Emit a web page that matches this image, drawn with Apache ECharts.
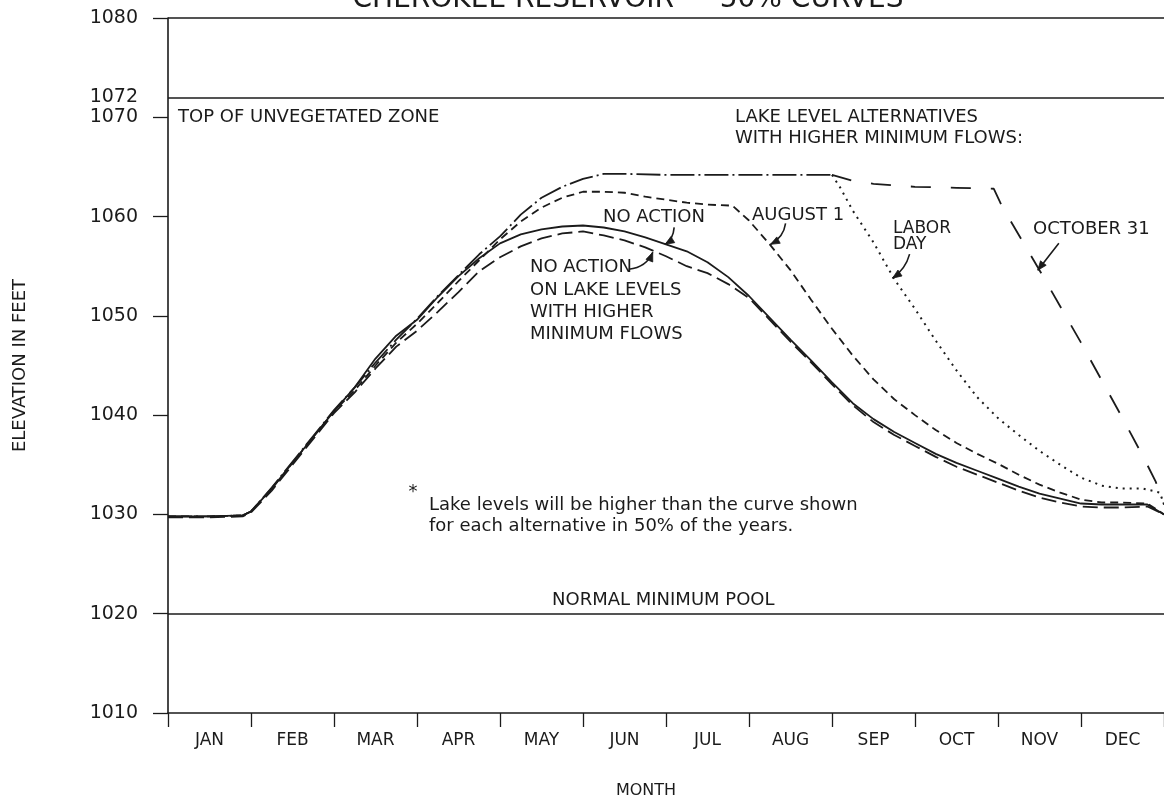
<!DOCTYPE html>
<html>
<head>
<meta charset="utf-8">
<title>Cherokee Reservoir — 50% Curves</title>
<script src="https://cdn.jsdelivr.net/npm/echarts@6/dist/echarts.min.js"></script>
<style>
  html, body { margin: 0; padding: 0; background: #fff; }
  #chart { width: 1164px; height: 805px; }
</style>
</head>
<body>
<div id="chart"></div>
<script>
// ---- Axis categories and ticks ----
const monthLabels = ['JAN', 'FEB', 'MAR', 'APR', 'MAY', 'JUN', 'JUL', 'AUG', 'SEP', 'OCT', 'NOV', 'DEC'];
const elevationTicks = [1010, 1020, 1030, 1040, 1050, 1060, 1070, 1080];
const elevationLabels = [1010, 1020, 1030, 1040, 1050, 1060, 1070, 1072, 1080];

// ---- Reference levels (feet) ----
const chartTopLevel = 1080;
const topOfUnvegetatedZone = 1072;
const normalMinimumPool = 1020;

// ---- Curves: [month position (0 = Jan 1, 12 = Dec 31), elevation in feet] ----
const noAction = [
  [0, 1029.8], [0.5, 1029.8], [0.9, 1029.9], [1.0, 1030.3], [1.25, 1032.6], [1.5, 1035.2],
  [1.75, 1037.8], [2.0, 1040.4], [2.25, 1042.8], [2.5, 1045.7], [2.75, 1048.0], [3.0, 1049.6],
  [3.25, 1051.9], [3.5, 1054.0], [3.75, 1055.8], [4.0, 1057.3], [4.25, 1058.2], [4.5, 1058.7],
  [4.75, 1059.0], [5.0, 1059.1], [5.25, 1058.9], [5.5, 1058.5], [5.75, 1057.9], [6.0, 1057.2],
  [6.25, 1056.5], [6.5, 1055.4], [6.75, 1053.9], [7.0, 1052.0], [7.25, 1049.8], [7.5, 1047.6],
  [7.75, 1045.5], [8.0, 1043.3], [8.25, 1041.2], [8.5, 1039.6], [8.75, 1038.3], [9.0, 1037.2],
  [9.25, 1036.1], [9.5, 1035.2], [9.75, 1034.4], [10.0, 1033.6], [10.25, 1032.8], [10.5, 1032.1],
  [10.75, 1031.6], [11.0, 1031.1], [11.25, 1031.0], [11.5, 1031.0], [11.8, 1031.0], [12.0, 1030.0]
];

const noActionHigherFlows = [
  [0, 1029.7], [0.5, 1029.7], [0.9, 1029.8], [1.0, 1030.2], [1.25, 1032.4], [1.5, 1035.0],
  [1.75, 1037.6], [2.0, 1040.2], [2.25, 1042.3], [2.5, 1044.7], [2.75, 1046.9], [3.0, 1048.5],
  [3.25, 1050.4], [3.5, 1052.4], [3.75, 1054.5], [4.0, 1055.9], [4.25, 1057.0], [4.5, 1057.8],
  [4.75, 1058.3], [5.0, 1058.5], [5.25, 1058.1], [5.5, 1057.6], [5.75, 1056.9], [6.0, 1056.0],
  [6.25, 1055.0], [6.5, 1054.3], [6.75, 1053.2], [7.0, 1051.8], [7.25, 1049.6], [7.5, 1047.4],
  [7.75, 1045.3], [8.0, 1043.1], [8.25, 1041.0], [8.5, 1039.3], [8.75, 1038.0], [9.0, 1036.9],
  [9.25, 1035.8], [9.5, 1034.8], [9.75, 1034.0], [10.0, 1033.2], [10.25, 1032.4], [10.5, 1031.7],
  [10.75, 1031.2], [11.0, 1030.8], [11.25, 1030.7], [11.5, 1030.7], [11.8, 1030.8], [12.0, 1030.0]
];

const august1 = [
  [0, 1029.8], [0.5, 1029.8], [0.9, 1029.9], [1.0, 1030.3], [1.25, 1032.6], [1.5, 1035.2],
  [1.75, 1037.8], [2.0, 1040.4], [2.25, 1042.5], [2.5, 1045.0], [2.75, 1047.3], [3.0, 1049.2],
  [3.25, 1051.3], [3.5, 1053.5], [3.75, 1055.6], [4.0, 1057.7], [4.25, 1059.5], [4.5, 1060.9],
  [4.75, 1061.9], [5.0, 1062.5], [5.25, 1062.5], [5.5, 1062.4], [5.75, 1062.0], [6.0, 1061.7],
  [6.25, 1061.4], [6.5, 1061.2], [6.8, 1061.1], [7.0, 1059.6], [7.25, 1057.2], [7.5, 1054.6],
  [7.75, 1051.6], [8.0, 1048.7], [8.25, 1046.0], [8.5, 1043.6], [8.75, 1041.6], [9.0, 1040.0],
  [9.25, 1038.5], [9.5, 1037.2], [9.75, 1036.1], [10.0, 1035.1], [10.25, 1034.0], [10.5, 1033.0],
  [10.75, 1032.2], [11.0, 1031.5], [11.25, 1031.2], [11.5, 1031.2], [11.8, 1031.1], [12.0, 1030.0]
];

// Labor Day and October 31 follow the same curve until September 1
const laborDayOct31Common = [
  [0, 1029.8], [0.5, 1029.8], [0.9, 1029.9], [1.0, 1030.3], [1.25, 1032.7], [1.5, 1035.3],
  [1.75, 1037.9], [2.0, 1040.5], [2.25, 1042.8], [2.5, 1045.3], [2.75, 1047.6], [3.0, 1049.7],
  [3.25, 1052.0], [3.5, 1054.1], [3.75, 1056.2], [4.0, 1058.0], [4.25, 1060.2], [4.5, 1061.9],
  [4.75, 1063.0], [5.0, 1063.8], [5.25, 1064.3], [5.5, 1064.3], [6.0, 1064.2], [7.0, 1064.2],
  [8.0, 1064.2]
];

const laborDay = [
  [8.0, 1064.2], [8.1, 1062.9], [8.25, 1060.6], [8.5, 1057.4], [8.75, 1053.7], [9.0, 1050.7],
  [9.25, 1047.5], [9.5, 1044.5], [9.75, 1041.8], [10.0, 1039.7], [10.25, 1038.0], [10.5, 1036.4],
  [10.75, 1035.0], [11.0, 1033.7], [11.25, 1032.9], [11.5, 1032.6], [11.75, 1032.6], [11.95, 1032.2],
  [12.0, 1031.0]
];

const october31 = [
  [8.0, 1064.2], [8.25, 1063.6], [8.5, 1063.3], [9.0, 1063.0], [9.5, 1062.9], [9.95, 1062.8],
  [10.05, 1061.0], [10.5, 1054.6], [11.0, 1047.3], [11.5, 1039.7], [11.75, 1035.8], [11.9, 1033.3],
  [12.0, 1031.0]
];

// ---- Chart ----
const INK = '#1b1b1b';
const FONT = '"DejaVu Sans", "Liberation Sans", sans-serif';

const chart = echarts.init(document.getElementById('chart'), null, { renderer: 'canvas' });

function curve(name, data, dash, width) {
  return {
    name: name,
    type: 'line',
    xAxisIndex: 1,
    yAxisIndex: 0,
    data: data,
    showSymbol: false,
    symbol: 'none',
    smooth: false,
    silent: true,
    lineStyle: { color: INK, width: width || 1.8, type: dash, cap: 'butt' },
    z: 3
  };
}

const referenceLevels = {
  silent: true,
  symbol: ['none', 'none'],
  label: { show: false },
  lineStyle: { color: INK, width: 1.6, type: 'solid' },
  data: [{ yAxis: chartTopLevel }, { yAxis: topOfUnvegetatedZone }, { yAxis: normalMinimumPool }]
};

const solid = curve('NO ACTION', noAction, 'solid', 1.8);
solid.markLine = referenceLevels;

chart.setOption({
  animation: false,
  backgroundColor: '#ffffff',
  grid: { left: 168, right: -4, top: 18, bottom: 92, containLabel: false },
  xAxis: [
    {
      type: 'category',
      data: monthLabels,
      boundaryGap: true,
      position: 'bottom',
      axisLine: { show: true, lineStyle: { color: INK, width: 1.6 } },
      axisTick: { show: true, length: 14, interval: 0, lineStyle: { color: INK, width: 1.3 } },
      axisLabel: { interval: 0, color: INK, fontFamily: FONT, fontSize: 17, margin: 19 },
      splitLine: { show: false },
      name: 'MONTH',
      nameLocation: 'middle',
      nameGap: 70,
      nameTextStyle: { color: INK, fontFamily: FONT, fontSize: 16, padding: [0, 40, 0, 0] }
    },
    { type: 'value', min: 0, max: 12, show: false }
  ],
  yAxis: {
    type: 'value',
    min: 1010,
    max: 1080,
    interval: 10,
    axisLine: { show: true, lineStyle: { color: INK, width: 1.6 } },
    axisTick: { show: true, length: 15, customValues: elevationTicks, lineStyle: { color: INK, width: 1.3 } },
    axisLabel: {
      customValues: elevationLabels,
      formatter: (v) => String(v),
      color: INK, fontFamily: FONT, fontSize: 19, margin: 30
    },
    splitLine: { show: false },
    name: 'ELEVATION IN FEET',
    nameLocation: 'middle',
    nameRotate: 90,
    nameGap: 139,
    nameTextStyle: { color: INK, fontFamily: FONT, fontSize: 18 }
  },
  series: [
    solid,
    curve('NO ACTION ON LAKE LEVELS WITH HIGHER MINIMUM FLOWS', noActionHigherFlows, [15, 6], 1.8),
    curve('AUGUST 1', august1, [8, 5], 1.8),
    curve('LABOR DAY / OCTOBER 31', laborDayOct31Common, [24, 4, 2, 4], 1.8),
    curve('LABOR DAY', laborDay, [2, 5], 2),
    curve('OCTOBER 31', october31, [20, 20], 1.8)
  ]
});

// ---- Annotations: labels, callout arrows, notes ----
function toPx(month, feet) {
  return chart.convertToPixel({ xAxisIndex: 1, yAxisIndex: 0 }, [month, feet]);
}

function label(text, x, y, size, align) {
  return {
    type: 'text',
    silent: true,
    z: 10,
    style: {
      text: text, x: x, y: y,
      font: (size || 18) + 'px ' + FONT,
      fill: INK,
      textAlign: align || 'left',
      textVerticalAlign: 'middle'
    }
  };
}

// Callout arrow: curve from a text anchor to a point on a curve, with a filled head
function arrow(start, ctrl, tip) {
  const ang = Math.atan2(tip[1] - ctrl[1], tip[0] - ctrl[0]);
  const len = 9, half = 3.6;
  const bx = tip[0] - len * Math.cos(ang), by = tip[1] - len * Math.sin(ang);
  const nx = -Math.sin(ang) * half, ny = Math.cos(ang) * half;
  return [
    {
      type: 'bezierCurve', silent: true, z: 10,
      shape: { x1: start[0], y1: start[1], x2: tip[0], y2: tip[1], cpx1: ctrl[0], cpy1: ctrl[1] },
      style: { stroke: INK, lineWidth: 1.6, fill: null }
    },
    {
      type: 'polygon', silent: true, z: 10,
      shape: { points: [[tip[0], tip[1]], [bx + nx, by + ny], [bx - nx, by - ny]] },
      style: { fill: INK, stroke: INK, lineWidth: 0.8 }
    }
  ];
}

const tipNoAction = toPx(5.99, 1057.2);
const tipNoActionHmf = toPx(5.84, 1056.4);
const tipAug1 = toPx(7.26, 1057.2);
const tipLaborDay = toPx(8.73, 1053.8);
const tipOct31 = toPx(10.48, 1054.6);

const offset = (p, dx, dy) => [p[0] + dx, p[1] + dy];

const graphics = [
  label('CHEROKEE RESERVOIR — 50% CURVES', 628, 0, 28, 'center'),
  label('TOP OF UNVEGETATED ZONE', 178, 117, 18),
  label('LAKE LEVEL ALTERNATIVES', 735, 117, 18),
  label('WITH HIGHER MINIMUM FLOWS:', 735, 138, 18),
  label('NO ACTION', 603, 217, 18),
  label('NO ACTION', 530, 267, 18),
  label('ON LAKE LEVELS', 530, 290, 18),
  label('WITH HIGHER', 530, 312, 18),
  label('MINIMUM FLOWS', 530, 334, 18),
  label('AUGUST 1', 752, 215, 18),
  label('LABOR', 893, 229, 17),
  label('DAY', 893, 245, 17),
  label('OCTOBER 31', 1033, 229, 18),
  label('*', 413, 492, 18, 'center'),
  label('Lake levels will be higher than the curve shown', 429, 505, 18),
  label('for each alternative in 50% of the years.', 429, 526, 18),
  label('NORMAL MINIMUM POOL', 552, 600, 18)
];

graphics.push(...arrow(offset(tipNoAction, 9, -17), offset(tipNoAction, 8, -5), tipNoAction));
graphics.push(...arrow(offset(tipNoActionHmf, -24, 17), offset(tipNoActionHmf, -6, 15), tipNoActionHmf));
graphics.push(...arrow(offset(tipAug1, 15, -21), offset(tipAug1, 13, -7), tipAug1));
graphics.push(...arrow(offset(tipLaborDay, 17, -24), offset(tipLaborDay, 13, -9), tipLaborDay));
graphics.push(...arrow(offset(tipOct31, 21, -27), offset(tipOct31, 10, -13), tipOct31));

chart.setOption({ graphic: graphics });
</script>
</body>
</html>
